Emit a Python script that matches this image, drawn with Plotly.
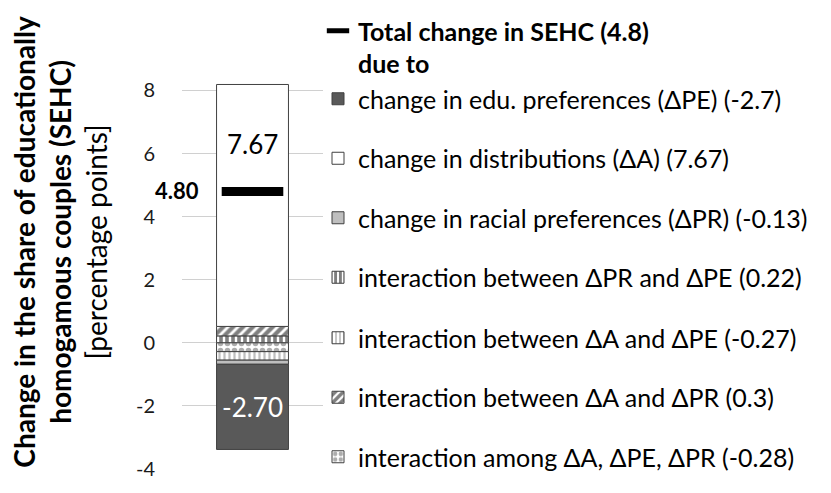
import plotly.graph_objects as go

# components of the change in SEHC (percentage points)
component_names = [
    "change in edu. preferences (ΔPE) (-2.7)",
    "change in distributions (ΔA) (7.67)",
    "change in racial preferences (ΔPR) (-0.13)",
    "interaction between ΔPR and ΔPE (0.22)",
    "interaction between ΔA and ΔPE (-0.27)",
    "interaction between ΔA and ΔPR (0.3)",
    "interaction among ΔA, ΔPE, ΔPR (-0.28)",
]
component_values = [-2.70, 7.67, -0.13, 0.22, -0.27, 0.30, -0.28]
total_change = 4.80
total_name = "<b>Total change in SEHC (4.8)<br>due to</b>"
y_ticks = [-4, -2, 0, 2, 4, 6, 8]

cat = ["SEHC"]
font_family = "Lato"

# page body has an 8px margin, so the figure is 8px smaller than the window
W, H = 823, 485

# fill style per component (same order as component_names)
styles = [
    dict(color="#595959"),
    dict(color="#ffffff"),
    dict(color="#bfbfbf"),
    dict(color="#ffffff", pattern=dict(shape="|", fgcolor="#000000", size=6, solidity=0.6)),
    dict(color="#ffffff", pattern=dict(shape="|", fgcolor="#808080", size=5, solidity=0.45)),
    dict(color="#ffffff", pattern=dict(shape="/", fgcolor="#000000", size=7, solidity=0.6)),
    dict(color="#ffffff", pattern=dict(shape=".", fgcolor="#595959", size=7, solidity=0.5)),
]

# stacking order away from zero (relative mode stacks in trace order)
stack_order = [3, 6, 5, 4, 2, 1, 0]

fig = go.Figure()

for i in stack_order:
    text = None
    if i == 0:
        text = ["%.2f" % component_values[i]]
    fig.add_trace(
        go.Bar(
            x=cat,
            y=[component_values[i]],
            name=component_names[i],
            legend="legend2" if i < 4 else "legend3",
            legendgroup="g%d" % i,
            legendrank=i + 2,
            marker=dict(line=dict(color="#404040", width=1), **styles[i]),
            text=text,
            textposition="inside" if text else "none",
            insidetextanchor="middle",
            constraintext="none",
            textangle=0,
            textfont=dict(size=26, color="#ffffff", family=font_family),
            hoverinfo="y+name",
        )
    )

fig.add_trace(
    go.Scatter(
        x=cat,
        y=[total_change],
        mode="markers",
        name=total_name,
        legend="legend",
        marker=dict(symbol="line-ew", size=44, color="#000000",
                    line=dict(color="#000000", width=9)),
    )
)

# value labels
fig.add_annotation(x=cat[0], y=6.31, text="%.2f" % component_values[1], showarrow=False,
                   font=dict(size=26, color="#000000", family=font_family))
fig.add_annotation(x=cat[0], y=total_change, text="<b>%.2f</b>" % total_change, showarrow=False,
                   xanchor="right", xshift=-52, yshift=1,
                   font=dict(size=22, color="#000000", family=font_family))

# axis title
fig.add_annotation(
    xref="paper", yref="paper", x=-0.868, y=0.585, textangle=-90,
    xanchor="center", yanchor="middle", showarrow=False,
    text="<b>Change in the share of educationally<br>homogamous couples (SEHC)</b><br>[percentage points]",
    font=dict(size=28, color="#000000", family=font_family),
)

legend_common = dict(
    xref="container", yref="container",
    x=310 / W, xanchor="left", yanchor="top",
    font=dict(size=25, color="#000000", family=font_family),
    tracegroupgap=24,
    traceorder="grouped",
    valign="top",
    bgcolor="rgba(0,0,0,0)",
)

fig.update_layout(
    width=W,
    height=H,
    barmode="relative",
    bargap=0.49,
    plot_bgcolor="#ffffff",
    paper_bgcolor="#ffffff",
    margin=dict(l=174, r=508, t=73, b=24, autoexpand=False),
    font=dict(family=font_family, color="#000000"),
    showlegend=True,
    legend=dict(legend_common, y=1.0),
    legend2=dict(legend_common, y=1 - 68 / H),
    legend3=dict(legend_common, y=1 - 307 / H),
    xaxis=dict(range=[-0.5, 0.5], showticklabels=False, showgrid=False,
               zeroline=False, showline=False),
    yaxis=dict(
        range=[-4, 8.3],
        tickvals=y_ticks,
        ticktext=[str(t) for t in y_ticks],
        showgrid=True,
        gridcolor="#d0d0d0",
        gridwidth=1,
        zeroline=False,
        showline=False,
        ticks="",
        ticklabelstandoff=26,
        tickfont=dict(size=20, color="#1a1a1a", family=font_family),
    ),
)

fig.write_html("out.html")
